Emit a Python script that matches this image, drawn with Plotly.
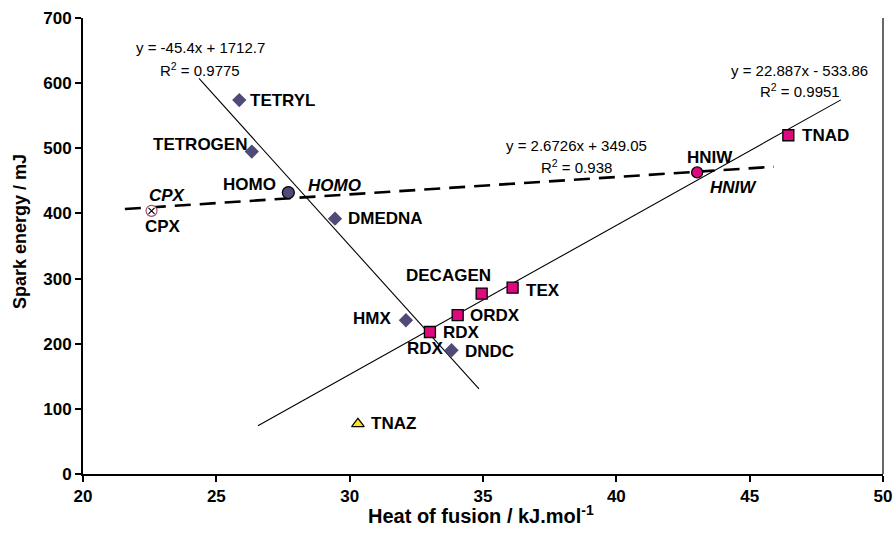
import plotly.graph_objects as go

# ---- data ----
dia_names = ["TETRYL", "TETROGEN", "DMEDNA", "HMX", "DNDC"]
dia_x = [25.86, 26.33, 29.45, 32.11, 33.82]
dia_y = [574, 495, 392, 236, 190]

sq_names = ["RDX", "ORDX", "DECAGEN", "TEX", "TNAD"]
sq_x = [33.01, 34.05, 34.95, 36.11, 46.45]
sq_y = [218, 244, 277, 286, 520]

homo_x, homo_y = [27.70], [432]
hniw_x, hniw_y = [43.03], [463]
cpx_x, cpx_y = [22.57], [404]
tnaz_x, tnaz_y = [30.31], [77]

x_ticks = [20, 25, 30, 35, 40, 45, 50]
y_ticks = [0, 100, 200, 300, 400, 500, 600, 700]

# trend lines: slope, intercept, x range
trend_dec = (-45.4, 1712.7, [24.35, 34.85])
trend_inc = (22.887, -533.86, [26.56, 48.42])
trend_flat = (2.6726, 349.05, [21.57, 45.91])

FONT = "Liberation Sans, Arial, sans-serif"
DIA_C = "#4F4A78"
MAG_C = "#E0087F"

fig = go.Figure()

def trend(t, dash):
    m, b, xr = t
    fig.add_trace(go.Scatter(x=xr, y=[m * v + b for v in xr], mode="lines",
                             line=dict(color="black", width=2.6 if dash else 1.1,
                                       dash="16px,9px" if dash else "solid"),
                             hoverinfo="skip", showlegend=False))

trend(trend_dec, False)
trend(trend_inc, False)
trend(trend_flat, True)

fig.add_trace(go.Scatter(x=dia_x, y=dia_y, mode="markers",
                         marker=dict(symbol="diamond", size=11, color=DIA_C,
                                     line=dict(width=0)), showlegend=False))
fig.add_trace(go.Scatter(x=sq_x, y=sq_y, mode="markers",
                         marker=dict(symbol="square", size=11, color=MAG_C,
                                     line=dict(width=1.3, color="black")), showlegend=False))
fig.add_trace(go.Scatter(x=homo_x, y=homo_y, mode="markers",
                         marker=dict(symbol="circle", size=12, color=DIA_C,
                                     line=dict(width=1.3, color="black")), showlegend=False))
fig.add_trace(go.Scatter(x=hniw_x, y=hniw_y, mode="markers",
                         marker=dict(symbol="circle", size=11, color=MAG_C,
                                     line=dict(width=1.3, color="black")), showlegend=False))
fig.add_trace(go.Scatter(x=cpx_x, y=cpx_y, mode="markers",
                         marker=dict(symbol="circle", size=11, color="white",
                                     line=dict(width=1.2, color="#A0506E")), showlegend=False))
fig.add_trace(go.Scatter(x=cpx_x, y=cpx_y, mode="markers",
                         marker=dict(symbol="x-thin-open", size=6, color="black",
                                     line=dict(width=1.2, color="black")), showlegend=False))
fig.add_trace(go.Scatter(x=tnaz_x, y=tnaz_y, mode="markers",
                         marker=dict(symbol="triangle-up", size=11, color="#FFE81A",
                                     line=dict(width=1.2, color="black")), showlegend=False))

# ---- point labels: (text, x, y, anchor, xshift, yshift, italic)
labels = [
    ("TETRYL", dia_x[0], dia_y[0], "left", 9, 0, False),
    ("TETROGEN", dia_x[1], dia_y[1], "right", -3, 7, False),
    ("DMEDNA", dia_x[2], dia_y[2], "left", 11, 0, False),
    ("HMX", dia_x[3], dia_y[3], "right", -13, 2, False),
    ("DNDC", dia_x[4], dia_y[4], "left", 11, -1, False),
    ("RDX", sq_x[0], sq_y[0], "left", 11, -1, False),
    ("RDX", sq_x[0], sq_y[0], "right", 16, -17, False),
    ("ORDX", sq_x[1], sq_y[1], "left", 10, 0, False),
    ("DECAGEN", sq_x[2], sq_y[2], "center", -33, 18, False),
    ("TEX", sq_x[3], sq_y[3], "left", 11, -3, False),
    ("TNAD", sq_x[4], sq_y[4], "left", 12, 0, False),
    ("HOMO", homo_x[0], homo_y[0], "right", -10, 8, False),
    ("HOMO", homo_x[0], homo_y[0], "left", 18, 7, True),
    ("HNIW", hniw_x[0], hniw_y[0], "center", 13, 15, False),
    ("HNIW", hniw_x[0], hniw_y[0], "center", 36, -15, True),
    ("CPX", cpx_x[0], cpx_y[0], "center", 16, 15, True),
    ("CPX", cpx_x[0], cpx_y[0], "center", 11, -16, False),
    ("TNAZ", tnaz_x[0], tnaz_y[0], "left", 11, 0, False),
]
for t, x, y, anc, xs, ys, it in labels:
    txt = f"<i><b>{t}</b></i>" if it else f"<b>{t}</b>"
    fig.add_annotation(x=x, y=y, text=txt, showarrow=False, xanchor=anc,
                       yanchor="middle", xshift=xs, yshift=ys,
                       font=dict(family=FONT, size=17, color="black"))

# ---- equation labels
eqs = [
    ("y = -45.4x + 1712.7", 24.39, 655),
    ("R<sup>2</sup> = 0.9775", 24.39, 621),
    ("y = 2.6726x + 349.05", 38.49, 505),
    ("R<sup>2</sup> = 0.938", 38.52, 472),
    ("y = 22.887x - 533.86", 46.88, 619),
    ("R<sup>2</sup> = 0.9951", 46.9, 588),
]
for t, x, y in eqs:
    fig.add_annotation(x=x, y=y, text=t, showarrow=False, xanchor="center",
                       yanchor="middle", font=dict(family=FONT, size=15, color="black"))

# axis titles
fig.add_annotation(xref="paper", yref="paper", x=(481 - 83) / 800, y=-(514 - 474) / 456,
                   text="<b>Heat of fusion / kJ.mol<sup>-1</sup></b>", showarrow=False,
                   xanchor="center", yanchor="middle",
                   font=dict(family=FONT, size=20, color="black"))
fig.add_annotation(xref="paper", yref="paper", x=-(83 - 20) / 800, y=(474 - 232) / 456,
                   text="<b>Spark energy / mJ</b>", showarrow=False, textangle=-90,
                   xanchor="center", yanchor="middle",
                   font=dict(family=FONT, size=18, color="black"))

# right border line
fig.add_shape(type="line", xref="paper", yref="paper", x0=1, x1=1, y0=0, y1=1,
              line=dict(color="black", width=1.2))

fig.update_layout(
    width=896, height=534,
    margin=dict(l=83, r=13, t=18, b=60, autoexpand=False),
    paper_bgcolor="white", plot_bgcolor="white",
    showlegend=False,
    font=dict(family=FONT, color="black"),
)
fig.update_xaxes(range=[20, 50], tickvals=x_ticks,
                 ticktext=["<b>%d</b>" % v for v in x_ticks],
                 showgrid=False, zeroline=False, showline=True, linecolor="black",
                 linewidth=2, ticks="outside", ticklen=6, tickwidth=2, tickcolor="black",
                 tickfont=dict(family=FONT, size=17), automargin=False)
fig.update_yaxes(range=[0, 700], tickvals=y_ticks,
                 ticktext=["<b>%d</b>" % v for v in y_ticks],
                 showgrid=False, zeroline=False, showline=True, linecolor="black",
                 linewidth=2, ticks="outside", ticklen=6, tickwidth=2, tickcolor="black",
                 tickfont=dict(family=FONT, size=17), automargin=False)

fig.write_html("out.html", config={"displayModeBar": False},
               post_script="document.body.style.margin='0';document.body.style.overflow='hidden';")
